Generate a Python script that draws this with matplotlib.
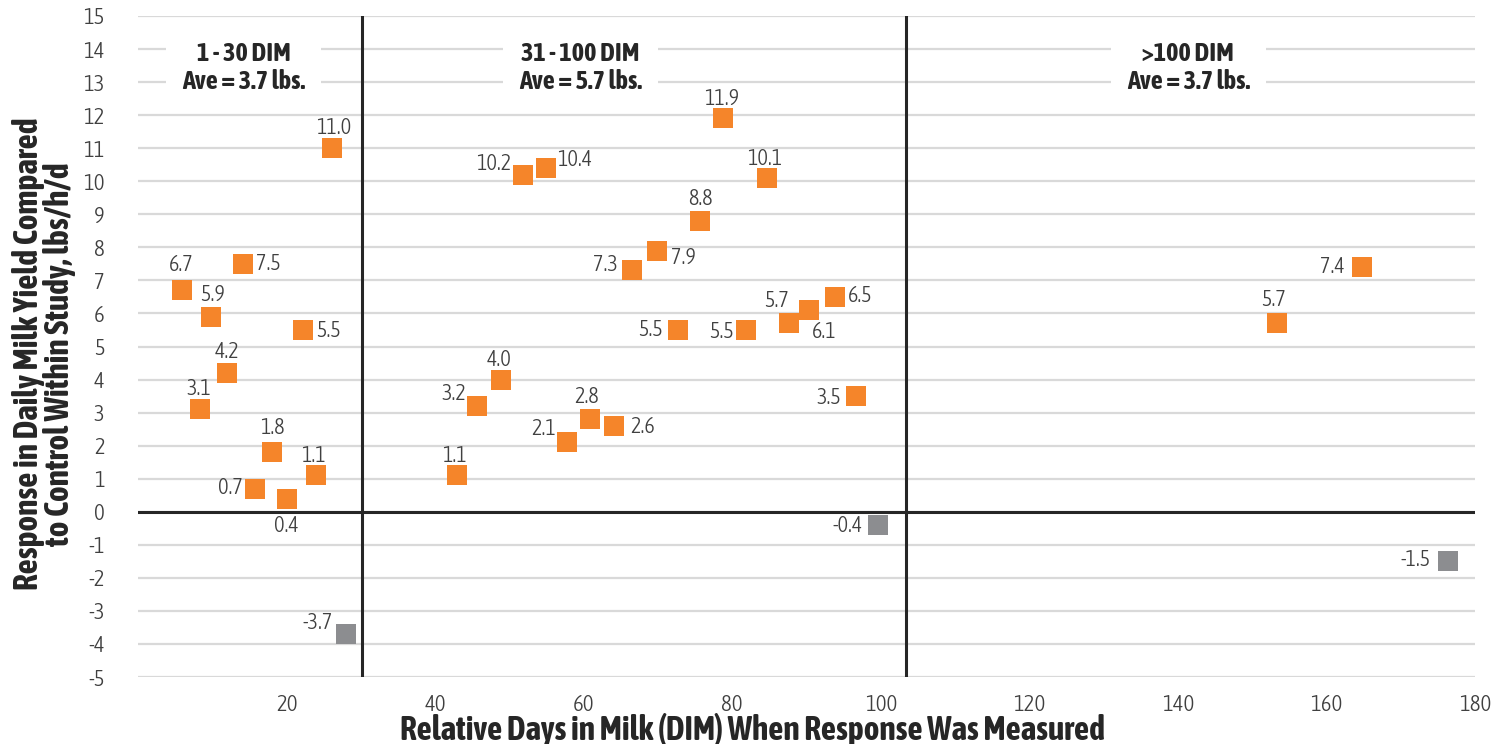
import matplotlib
matplotlib.use("Agg")
import matplotlib.pyplot as plt
from matplotlib import font_manager

# data (x = relative DIM, y = response lbs/h/d)
dim = [5.9, 14.1, 9.8, 22.2, 26.1, 12.0, 8.3, 18.0, 23.9, 15.8, 20.0, 28.0,
       42.9, 45.6, 48.9, 51.8, 54.9, 78.7, 84.7, 75.6, 69.9, 66.5, 93.8, 90.4,
       87.7, 72.7, 81.9, 96.7, 60.9, 64.1, 57.8, 99.6,
       164.8, 153.3, 176.4]
response = [6.7, 7.5, 5.9, 5.5, 11.0, 4.2, 3.1, 1.8, 1.1, 0.7, 0.4, -3.7,
            1.1, 3.2, 4.0, 10.2, 10.4, 11.9, 10.1, 8.8, 7.9, 7.3, 6.5, 6.1,
            5.7, 5.5, 5.5, 3.5, 2.8, 2.6, 2.1, -0.4,
            7.4, 5.7, -1.5]

# label offsets (pixels) from the marker
label_off = [(-1, 25), (26, 0), (2, 22), (26, -1), (2, 20), (0, 21), (-1, 20), (1, 24),
             (-2, 19), (-25, 1), (0, -27), (-28, 11),
             (-2, 19), (-23, 12), (-2, 20), (-29, 11), (29, 8), (-1, 19), (-2, 19), (1, 22),
             (26, -7), (-27, 5), (26, 1), (15, -22), (-13, 22), (-27, 0), (-25, -2),
             (-27, -2), (-4, 22), (28, -1), (-24, 13), (-30, -1),
             (-30, 0), (-3, 23), (-33, 1)]

groups = ["1 - 30 DIM\nAve = 3.7 lbs.", "31 - 100 DIM\nAve = 5.7 lbs.", ">100 DIM\nAve = 3.7 lbs."]
group_x = [14.2, 59.6, 141.4]
dividers = [30.2, 103.4]

ORANGE = "#F5852A"
GREY = "#8C8D90"


def weight_of(f):
    w = f.weight
    if isinstance(w, str):
        w = font_manager.weight_dict.get(w, 400)
    return w


def narrow_font(target):
    # look for an installed condensed / narrow face close to the wanted weight
    hits = []
    for f in font_manager.fontManager.ttflist:
        narrow = (f.stretch in ("condensed", "semi-condensed", "extra-condensed")
                  or "Condensed" in f.name or "Narrow" in f.name)
        if not narrow or f.style != "normal":
            continue
        w = weight_of(f)
        if abs(w - target) <= 150:
            hits.append((abs(w - target), f.name, f.fname))
    if hits:
        hits.sort()
        return font_manager.FontProperties(fname=hits[0][2])
    return font_manager.FontProperties(family="Roboto", weight="bold" if target >= 600 else "normal")


light = narrow_font(330)
bold = narrow_font(700)
plt.rcParams["axes.unicode_minus"] = False

fig = plt.figure(figsize=(15.05, 7.44), dpi=100)
ax = fig.add_axes([138 / 1505, 1 - 677 / 744, 1337 / 1505, 661 / 744])

ax.set_xlim(0, 180)
ax.set_ylim(-5, 15)
ax.set_xticks(range(20, 181, 20))
ax.set_yticks(range(-5, 16))
for s in ax.spines.values():
    s.set_visible(False)
ax.tick_params(length=0, labelcolor="#404040")
ax.tick_params(axis="y", pad=24)
ax.tick_params(axis="x", pad=12)
for lab in ax.get_xticklabels() + ax.get_yticklabels():
    lab.set_fontproperties(light)
    lab.set_fontsize(16.5)
ax.grid(axis="y", color="#D9D9D9", lw=1.6, zorder=0)
ax.set_axisbelow(True)

ax.axhline(0, color="#262626", lw=2.2, zorder=1)
for d in dividers:
    ax.axvline(d, color="#262626", lw=2.2, zorder=1)

colors = [ORANGE if v >= 0 else GREY for v in response]
for x, y, c, (dx, dy) in zip(dim, response, colors, label_off):
    ax.plot(x, y, marker="s", ms=13.7, mew=0, color=c, ls="none", zorder=3)
    ax.annotate(f"{y:.1f}", (x, y), xytext=(dx, dy), textcoords="offset pixels",
                ha="center", va="center", fontproperties=light, fontsize=16,
                color="#404040", zorder=4)

for gx, g in zip(group_x, groups):
    ax.text(gx, 13.45, g, ha="center", va="center", fontproperties=bold, fontsize=19,
            color="#262626", linespacing=1.15, zorder=2,
            bbox=dict(boxstyle="square,pad=0.6", fc="white", ec="none"))

fig.text(752 / 1505, 1 - 730 / 744, "Relative Days in Milk (DIM) When Response Was Measured",
         ha="center", va="center", fontproperties=bold, fontsize=24, color="#262626")
fig.text(44 / 1505, 1 - 354 / 744, "Response in Daily Milk Yield Compared\nto Control Within Study, lbs/h/d",
         ha="center", va="center", rotation=90, fontproperties=bold, fontsize=24,
         color="#262626", linespacing=0.95)

fig.savefig("out.png", dpi=100)
